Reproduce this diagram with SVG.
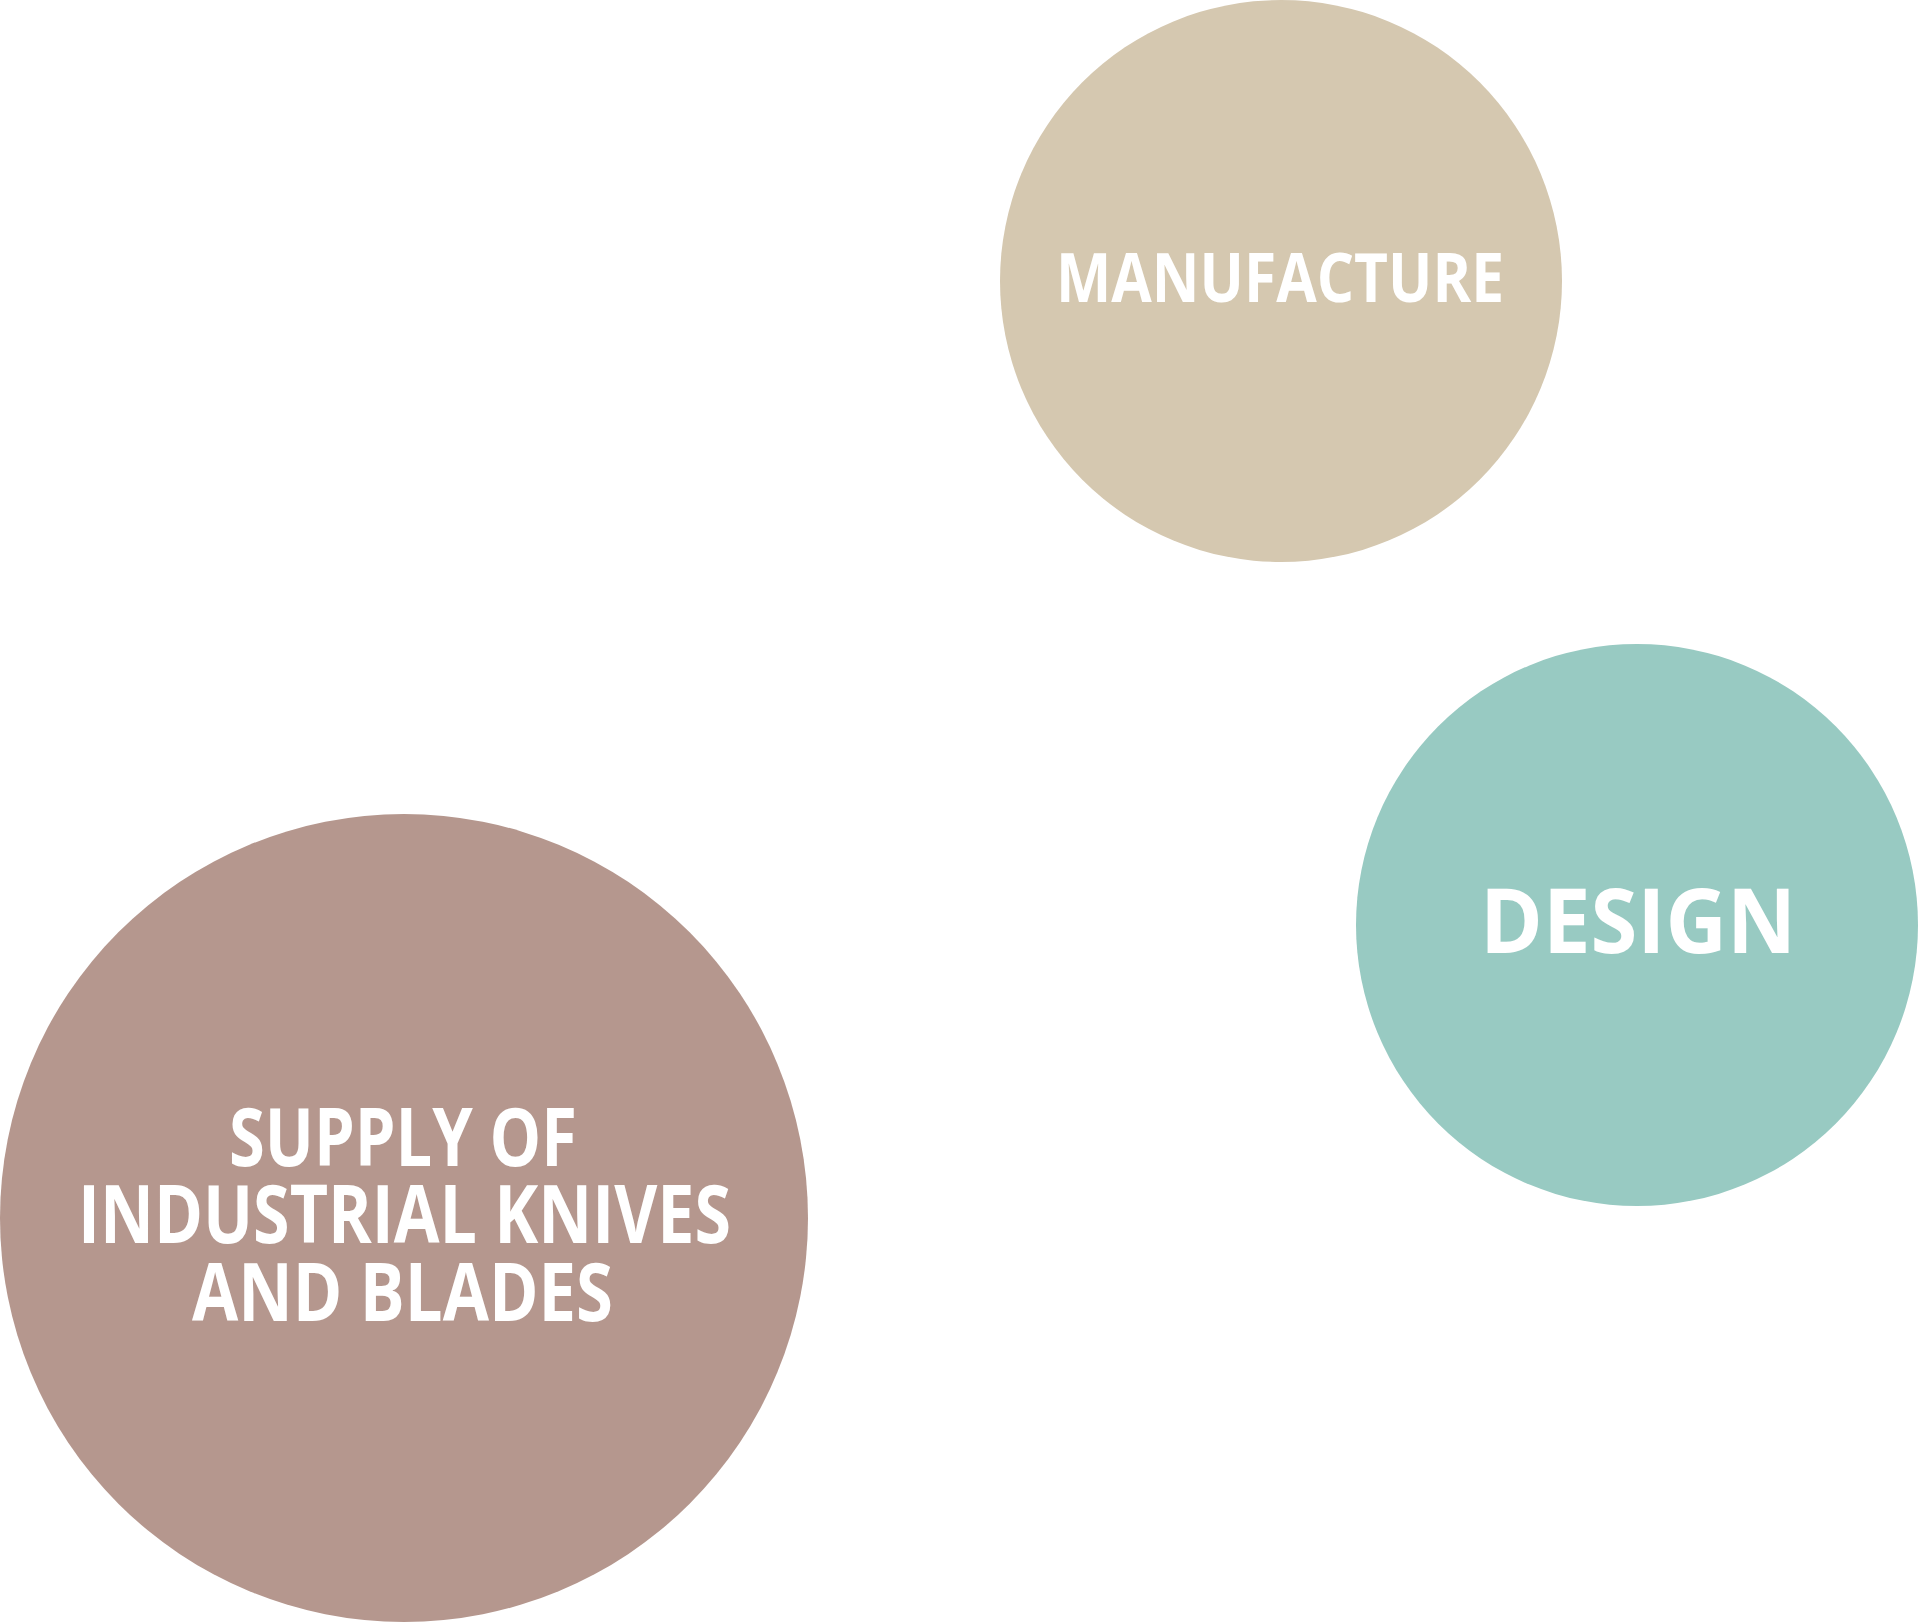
<svg xmlns="http://www.w3.org/2000/svg" width="1920" height="1622" viewBox="0 0 1920 1622">
<style>
.lbl{font-family:"Open Sans","Liberation Sans",sans-serif;font-weight:700;fill:#ffffff;text-anchor:start}
</style>
<rect width="1920" height="1622" fill="#ffffff"/>
<g id="connectors"/>
<g id="node-manufacture">
<circle cx="1281" cy="281" r="281" fill="#D5C8B0"/>
<text class="lbl" x="1056" y="302" font-size="68" textLength="448" lengthAdjust="spacingAndGlyphs">MANUFACTURE</text>
</g>
<g id="node-design">
<circle cx="1637" cy="925" r="281" fill="#98CAC2"/>
<text class="lbl" x="1480" y="953" font-size="90" textLength="316" lengthAdjust="spacingAndGlyphs">DESIGN</text>
</g>
<g id="node-supply">
<circle cx="404" cy="1218" r="404" fill="#B5978E"/>
<text class="lbl" font-size="80" lengthAdjust="spacingAndGlyphs"><tspan x="229" y="1166" textLength="348" lengthAdjust="spacingAndGlyphs">SUPPLY OF</tspan><tspan x="78" y="1243" textLength="653" lengthAdjust="spacingAndGlyphs">INDUSTRIAL KNIVES</tspan><tspan x="192" y="1321" textLength="421" lengthAdjust="spacingAndGlyphs">AND BLADES</tspan></text>
</g>
</svg>
